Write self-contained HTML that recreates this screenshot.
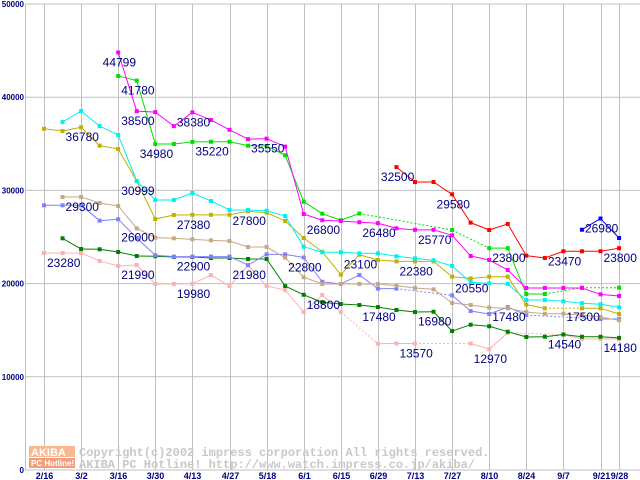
<!DOCTYPE html>
<html><head><meta charset="utf-8"><style>
html,body{margin:0;padding:0;background:#fff;}
svg{display:block;}
.lbl{font-family:"Liberation Sans",sans-serif;font-size:12px;fill:#000080;}
.tk{font-family:"Liberation Sans",sans-serif;font-size:9px;fill:#000080;font-weight:bold;}
.ytk{font-family:"Liberation Sans",sans-serif;font-size:8px;fill:#000080;font-weight:bold;}
.wm{font-family:"Liberation Mono",monospace;font-size:12px;fill:#c8c8c8;font-weight:bold;}
</style></head><body>
<svg id="chart" width="640" height="480" viewBox="0 0 640 480">
<g id="grid"></g>
<g id="series"></g>
<g id="labels"></g>
<g>
<rect x="29" y="446" width="46" height="11" fill="#f8b890"/>
<rect x="29" y="458" width="46" height="10" fill="#f49c7c"/>
<text x="31" y="456" font-family="Liberation Sans,sans-serif" font-size="11" font-weight="bold" fill="#fff">AKIBA</text>
<text x="31" y="466" font-family="Liberation Sans,sans-serif" font-size="8" font-weight="bold" fill="#fff">PC Hotline!</text>
<text class="wm" x="79" y="456">Copyright(c)2002 impress corporation All rights reserved.</text>
<text class="wm" x="79" y="468">AKIBA PC Hotline!  http://www.watch.impress.co.jp/akiba/</text>
</g>
</svg>
<script>
const dates = ["2/16","3/2","3/16","3/30","4/13","4/27","5/18","6/1","6/15","6/29","7/13","7/27","8/10","8/24","9/7","9/21","9/28"];
const dateIdx = [0,2,4,6,8,10,12,14,16,18,20,22,24,26,28,30,31];
const yTicks = [0,10000,20000,30000,40000,50000];
const N = null;
const magenta = [N,N,N,N,44799,38500,38400,36900,38380,37550,36500,35500,35550,34700,27470,26800,26720,26580,26480,25930,25770,25770,25180,22960,22530,21460,19530,19530,19530,19530,18850,18670];
const green = [N,N,N,N,42280,41780,34980,34980,35200,35220,35220,34800,34770,33770,28790,27500,26800,27520,N,N,N,N,25750,N,23800,23800,18880,18880,N,19560,N,19560];
const red = [N,N,N,N,N,N,N,N,N,N,N,N,N,N,N,N,N,N,N,32500,30900,30900,29580,26540,25750,26400,23000,22750,23470,23470,23470,23800];
const blue = [N,N,N,N,N,N,N,N,N,N,N,N,N,N,N,N,N,N,N,N,N,N,N,N,N,N,N,N,N,25780,26980,24890];
const cyan = [N,37340,38520,36900,35940,30999,28970,28970,29720,28860,27900,27900,27820,27250,23960,23360,23360,23250,23250,22930,22710,22500,21890,20140,20030,19960,18240,18240,18100,17890,17780,17460];
const olive = [36620,36370,36780,34800,34440,30999,26930,27360,27380,27380,27380,27760,27610,26720,24890,23420,20960,23100,22530,22380,22380,22380,20740,20550,20740,20740,17740,17350,N,17350,17350,16740];
const tan = [N,29290,29300,28650,28330,25930,24930,24860,24750,24640,24570,23930,23930,22780,20680,19960,19960,19960,19960,19780,19530,19390,17920,17700,17420,17350,16950,16770,16770,16600,16420,16060];
const peri = [28400,28400,28400,26750,26900,24890,23040,22900,22900,22900,22900,21980,23140,23140,22800,20200,19960,20920,19460,19460,N,N,18740,17060,16740,17480,16630,N,N,N,16200,16200];
const dkgreen = [N,24860,23710,23680,23390,22960,22930,22850,22850,22750,22750,22640,22640,19740,18800,18000,17810,17700,17480,17170,16950,16980,14910,15590,15420,14840,14270,14300,14540,14300,14300,14180];
const pink = [23280,23280,23280,22430,21890,21990,19960,19960,19980,20920,19740,21980,19740,19310,16950,18770,16950,N,13550,13570,13570,N,N,13570,12970,14730,N,N,14520,14060,14060,14060];
const seriesList = [
 ["pink-series","#ffb0b0",pink],["dkgreen-series","#008000",dkgreen],["peri-series","#8080ff",peri],["tan-series","#c8a882",tan],
 ["olive-series","#c0b000",olive],["cyan-series","#00f0f0",cyan],["green-series","#00e000",green],["magenta-series","#ff00ff",magenta],
 ["red-series","#ff0000",red],["blue-series","#0000ff",blue]];
const labelText = ["44799","41780","38500","38380","36780","34980","35220","35550","30999","29300","27380","27800","26000","26800","23280","21990","22900","21980","22800","19980","18800","26480","25770","32500","29580","23100","22380","23800","23470","23800","26980","20550","17480","16980","17480","17500","13570","12970","14540","14180"];
const labelIdx = [4,5,5,8,2,6,9,12,5,2,8,11,5,15,1,5,8,11,14,8,15,18,21,19,22,17,20,25,28,31,30,23,18,21,25,29,20,24,28,31];
const NS="http://www.w3.org/2000/svg";
const x = i => 44 + i*18.55;
const y = v => 470 - v*0.00932;
function mk(tag, attrs, parent){const e=document.createElementNS(NS,tag);for(const k in attrs)e.setAttribute(k,attrs[k]);parent.appendChild(e);return e;}
const grid=document.getElementById('grid');
yTicks.forEach(t=>{
 const l=mk('line',{x1:25,x2:640,y1:y(t),y2:y(t),stroke:'#c0c0c0','stroke-width':1},grid);
 
 
 const tx=mk('text',{x:24,y:y(t)+3,'text-anchor':'end',class:'ytk'},grid);
 tx.textContent=t;
 
 
});
const ax=mk('line',{x1:25.5,x2:25.5,y1:4,y2:470,stroke:'#c0c0c0'},grid);


dates.forEach((d,k)=>{
 const xi=Math.round(x(dateIdx[k]))+0.5;
 const l=mk('line',{x1:xi,x2:xi,y1:4,y2:470,stroke:'#c0c0c0'},grid);
 
 
 const tx=mk('text',{x:xi,y:479,'text-anchor':'middle',class:'tk'},grid);
 tx.textContent=d;
 
 
});
const sg=document.getElementById('series');
seriesList.forEach(([name,col,vals])=>{
 const g=mk('g',{},sg);
 
 
 let prev=-1;
 vals.forEach((v,i)=>{
  if(v===null)return;
  if(prev>=0){
   const a={x1:x(prev),y1:y(vals[prev]),x2:x(i),y2:y(v),stroke:col,'stroke-width':1};
   if(i-prev>1)a['stroke-dasharray']='2,2';
   const l=mk('line',a,g);
   
   
  }
  prev=i;
 });
 vals.forEach((v,i)=>{
  if(v===null)return;
  const r=mk('rect',{x:x(i)-2,y:y(v)-2,width:4,height:4,fill:col},g);
  
  
 });
});
const lg=document.getElementById('labels');
labelText.forEach((t,k)=>{
 const tx=mk('text',{x:x(labelIdx[k]-1)+3,y:y(Number(t))+14,class:'lbl'},lg);
 tx.textContent=t;
 
 
});
</script>
</body></html>
